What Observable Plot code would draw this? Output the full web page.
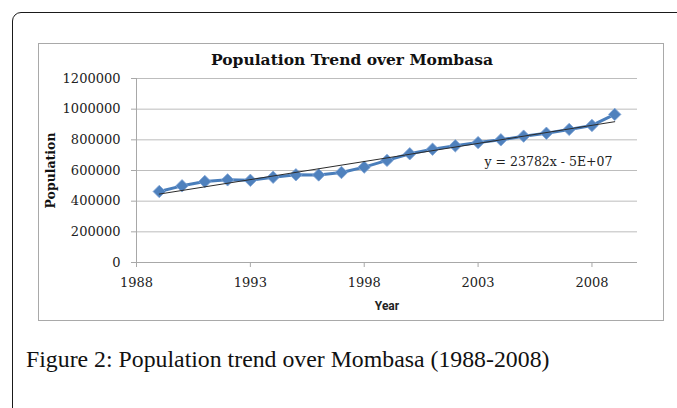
<!DOCTYPE html>
<html>
<head>
<meta charset="utf-8">
<script src="https://cdn.jsdelivr.net/npm/d3@7"></script>
<script src="https://cdn.jsdelivr.net/npm/@observablehq/plot@0.6"></script>
<style>
  html, body { margin: 0; padding: 0; background: #fff; }
  body { width: 677px; height: 408px; position: relative; overflow: hidden; }
  #outer { position: absolute; left: 12px; top: 12px; width: 720px; height: 440px;
           border: 1.5px solid #1a1a1a; border-radius: 9px; box-sizing: border-box; }
  #inner { position: absolute; left: 38px; top: 43px; width: 626px; height: 278px;
           border: 1px solid #a9a9a9; box-sizing: border-box; }
  #title { position: absolute; left: 38px; width: 628px; top: 50px; text-align: center;
           font-family: "DejaVu Serif", serif; font-weight: bold; font-size: 15.5px; color: #111; }
  #chart { position: absolute; left: 0; top: 0; }
  #caption { position: absolute; left: 26px; top: 346px; font-family: "Liberation Serif", serif;
             font-size: 23.8px; color: #111; white-space: nowrap; }
</style>
</head>
<body>
<div id="outer"></div>
<div id="inner"></div>
<div id="title">Population Trend over Mombasa</div>
<div id="chart"></div>
<div id="caption">Figure 2: Population trend over Mombasa (1988-2008)</div>
<script>
const years = [1989, 1990, 1991, 1992, 1993, 1994, 1995, 1996, 1997, 1998, 1999,
               2000, 2001, 2002, 2003, 2004, 2005, 2006, 2007, 2008, 2009];
const population = [463000, 500000, 528000, 539000, 536000, 556000, 572000, 571000, 587000, 622000, 666000,
                    709000, 739000, 761000, 782000, 800000, 824000, 843000, 868000, 894000, 966000];
const xTicks = [1988, 1993, 1998, 2003, 2008];
const yTicks = [0, 200000, 400000, 600000, 800000, 1000000, 1200000];
const equationLabel = ["y = 23782x - 5E+07"];
const xTitle = ["Year"];
const yTitle = ["Population"];

const data = years.map((year, i) => ({year, population: population[i]}));

const serif = "DejaVu Serif, serif";
const chart = Plot.plot({
  width: 677,
  height: 408,
  marginLeft: 136,
  marginRight: 40,
  marginTop: 78,
  marginBottom: 146,
  style: {background: "transparent", overflow: "visible"},
  x: {domain: [1988, 2010], axis: null},
  y: {domain: [0, 1200000], axis: null},
  marks: [
    Plot.gridY(yTicks.slice(1), {stroke: "#bdbdbd", strokeOpacity: 1, strokeWidth: 1}),
    Plot.axisY(yTicks, {tickSize: 5, tickPadding: 11, stroke: "#a8a8a8", tickFormat: d => String(d),
      fontSize: 13, fontFamily: serif, fill: "#222", label: null}),
    Plot.axisX(xTicks, {tickSize: 5, tickPadding: 10, stroke: "#a8a8a8", tickFormat: d => String(d),
      fontSize: 13, fontFamily: serif, fill: "#222", label: null}),
    Plot.ruleX([1988], {stroke: "#a8a8a8"}),
    Plot.ruleY([0], {stroke: "#a8a8a8"}),
    Plot.line(data, {x: "year", y: "population", stroke: "#4a7ebb", strokeWidth: 3}),
    Plot.dot(data, {x: "year", y: "population", symbol: "diamond2", r: 5.6,
      fill: "#4f81bd", stroke: "#7ea3d6", strokeWidth: 0.8}),
    Plot.linearRegressionY(data, {x: "year", y: "population", ci: 0, stroke: "#2b2b2b", strokeWidth: 1}),
    Plot.text(equationLabel, {frameAnchor: "top-right", dx: -25, dy: 83, textAnchor: "end", lineAnchor: "middle",
      fontSize: 12.5, fontFamily: serif, fill: "#222"}),
    Plot.text(xTitle, {frameAnchor: "bottom", dy: 44, lineAnchor: "middle", fontFamily: "Roboto, sans-serif",
      fontWeight: "bold", fontSize: 12, fill: "#222"}),
    Plot.text(yTitle, {frameAnchor: "left", dx: -86, rotate: -90, textAnchor: "middle", lineAnchor: "middle",
      fontFamily: serif, fontWeight: "bold", fontSize: 12.5, fill: "#111"})
  ]
});
document.getElementById("chart").appendChild(chart);
</script>
</body>
</html>
